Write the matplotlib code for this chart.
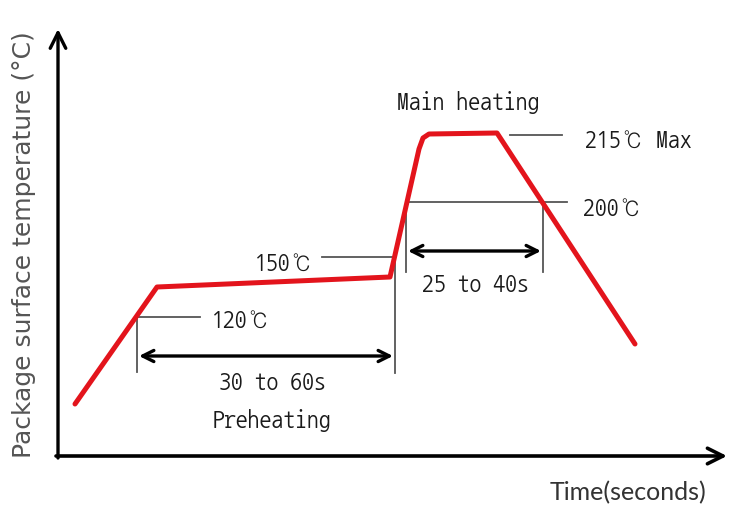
import matplotlib
matplotlib.use("Agg")
import matplotlib.pyplot as plt

# Schematic coordinates (x: time units, y: temperature units, arbitrary schematic scale)
profile_time = [75, 157, 390, 419, 423, 429, 497, 635]
profile_temp = [105, 222, 232, 360, 371, 375, 376, 165]

level_labels = ["120℃", "150℃", "200℃", "215℃ Max"]
level_y = [192, 252, 307, 374]

H = 510

fig = plt.figure(figsize=(7.32, 5.10), dpi=100)
ax = fig.add_axes([0, 0, 1, 1])
ax.set_xlim(0, 732)
ax.set_ylim(0, H)
ax.axis("off")

gray = "#555555"
lab_font = ["NanumGothicCoding", "DejaVu Sans"]

# axes arrows
ax.annotate("", xy=(58, H - 30), xytext=(58, H - 459),
            arrowprops=dict(arrowstyle="->", lw=2.4, color="black", mutation_scale=28, shrinkA=0, shrinkB=0))
ax.annotate("", xy=(727, H - 457), xytext=(56, H - 457),
            arrowprops=dict(arrowstyle="->", lw=2.6, color="black", mutation_scale=28, shrinkA=0, shrinkB=0))

# reference lines
gl = dict(color=gray, lw=1.3)
ax.plot([137, 200], [level_y[0]] * 2, **gl)
ax.plot([137, 137], [level_y[0], H - 373], **gl)
ax.plot([322, 392], [level_y[1]] * 2, **gl)
ax.plot([395, 395], [H - 250, H - 374], **gl)
ax.plot([406, 567], [level_y[2]] * 2, **gl)
ax.plot([406, 406], [level_y[2], H - 273], **gl)
ax.plot([543, 543], [level_y[2], H - 273], **gl)
ax.plot([510, 562], [level_y[3]] * 2, **gl)

# profile
ax.plot(profile_time, profile_temp, color="#e3141c", lw=3.6,
        solid_joinstyle="round", solid_capstyle="round", zorder=5)

# double arrows
ap = dict(arrowstyle="<->", lw=2.4, color="black", mutation_scale=20, shrinkA=0, shrinkB=0)
ax.annotate("", xy=(139, H - 357), xytext=(393, H - 357), arrowprops=ap)
ax.annotate("", xy=(408, H - 252), xytext=(541, H - 252), arrowprops=ap)

fs = 17
tc = "#1a1a1a"
ax.text(212, level_y[0] - 2, level_labels[0], fontsize=fs, family=lab_font, color=tc, va="center", ha="left")
ax.text(255, level_y[1] - 5, level_labels[1], fontsize=fs, family=lab_font, color=tc, va="center", ha="left")
ax.text(583, level_y[2] - 5, level_labels[2], fontsize=fs, family=lab_font, color=tc, va="center", ha="left")
ax.text(585, level_y[3] - 4, level_labels[3], fontsize=fs, family=lab_font, color=tc, va="center", ha="left")
ax.text(272, H - 383, "30 to 60s", fontsize=fs, family=lab_font, color=tc, va="center", ha="center")
ax.text(272, H - 421, "Preheating", fontsize=fs, family=lab_font, color=tc, va="center", ha="center")
ax.text(475, H - 284, "25 to 40s", fontsize=fs, family=lab_font, color=tc, va="center", ha="center")
ax.text(468, H - 102, "Main heating", fontsize=fs, family=lab_font, color=tc, va="center", ha="center")
ax.text(628, H - 493, "Time(seconds)", fontsize=18, family=["Lato", "DejaVu Sans"], color="#333333",
        va="center", ha="center")
ax.text(24, H - 245, "Package surface temperature (°C)", fontsize=18, family="DejaVu Sans", color="#555555",
        rotation=90, va="center", ha="center")

fig.savefig("out.png", dpi=100)
